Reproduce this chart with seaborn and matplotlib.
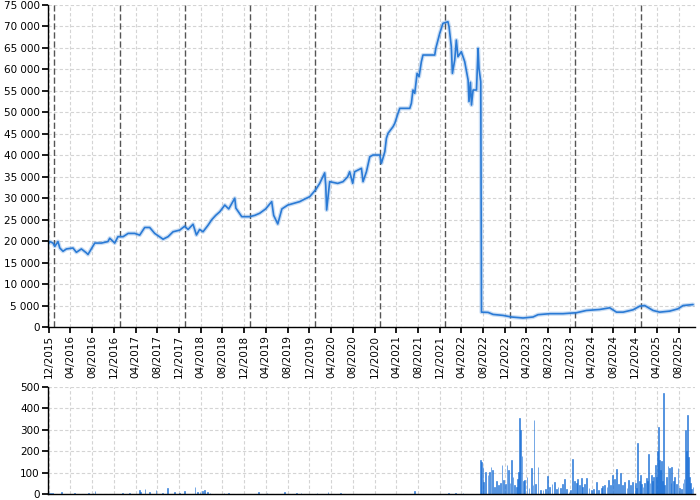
import pandas as pd
import seaborn as sns
import matplotlib.pyplot as plt
import matplotlib.dates as mdates
from matplotlib.ticker import FuncFormatter, MultipleLocator

# closing price
price_dates = [
    "2015-11-27", "2015-12-06", "2015-12-25", "2016-01-04", "2016-01-22", "2016-02-01",
    "2016-02-19", "2016-03-09", "2016-04-15", "2016-05-04", "2016-06-01", "2016-06-29",
    "2016-07-08", "2016-08-15", "2016-09-21", "2016-10-28", "2016-11-07", "2016-12-05",
    "2016-12-23", "2017-01-21", "2017-02-18", "2017-03-27", "2017-04-24", "2017-05-22",
    "2017-06-19", "2017-07-17", "2017-09-02", "2017-09-30", "2017-10-28", "2017-12-04",
    "2018-01-01", "2018-01-20", "2018-02-17", "2018-03-08", "2018-03-26", "2018-04-14",
    "2018-05-12", "2018-06-02", "2018-06-24", "2018-07-17", "2018-08-14", "2018-09-05",
    "2018-10-09", "2018-10-15", "2018-11-17", "2019-01-01", "2019-01-29", "2019-02-26",
    "2019-03-31", "2019-05-04", "2019-05-15", "2019-06-07", "2019-06-30", "2019-08-02",
    "2019-09-05", "2019-10-08", "2019-11-05", "2019-12-03", "2020-01-06", "2020-01-28",
    "2020-02-25", "2020-03-02", "2020-03-07", "2020-03-24", "2020-05-08", "2020-06-07",
    "2020-07-03", "2020-07-14", "2020-07-31", "2020-08-11", "2020-09-18", "2020-09-27",
    "2020-10-16", "2020-11-04", "2020-11-22", "2020-12-30", "2021-01-08", "2021-01-27",
    "2021-02-05", "2021-02-14", "2021-03-14", "2021-03-24", "2021-04-11", "2021-04-21",
    "2021-06-16", "2021-06-25", "2021-07-04", "2021-07-14", "2021-07-27", "2021-08-07",
    "2021-08-20", "2021-08-29", "2021-11-03", "2021-11-09", "2021-12-01", "2021-12-19",
    "2022-01-16", "2022-01-22", "2022-02-04", "2022-02-10", "2022-02-23", "2022-03-04",
    "2022-03-13", "2022-04-01", "2022-04-20", "2022-05-09", "2022-05-14", "2022-05-22",
    "2022-05-28", "2022-06-06", "2022-06-25", "2022-07-04", "2022-07-09", "2022-07-19",
    "2022-07-23", "2022-08-29", "2022-09-26", "2022-11-21", "2023-01-07", "2023-03-13",
    "2023-05-08", "2023-06-05", "2023-08-10", "2023-10-23", "2024-01-06", "2024-03-02",
    "2024-05-16", "2024-07-11", "2024-08-18", "2024-09-24", "2024-11-19", "2024-12-26",
    "2025-01-23", "2025-03-11", "2025-04-17", "2025-06-12", "2025-07-29", "2025-08-26",
    "2025-10-21",
]
price_values = [
    19160, 19900, 19550, 18770, 19900, 18400,
    17640, 18180, 18400, 17400, 18180, 17270,
    16890, 19550, 19550, 19900, 20680, 19550,
    21040, 21040, 21800, 21800, 21400, 23180,
    23180, 21800, 20450, 21040, 22180, 22560,
    23470, 22720, 23930, 21430, 22720, 22180,
    23700, 25000, 26000, 26850, 28400, 27500,
    30000, 27700, 25700, 25700, 26000, 26500,
    27500, 29200, 26000, 24000, 27500, 28400,
    28800, 29200, 29800, 30350, 32000, 33450,
    35900, 33000, 27250, 33850, 33450, 33850,
    35000, 36170, 33460, 36170, 36960, 33850,
    36170, 39660, 40060, 40060, 38120, 40830,
    43950, 45100, 46650, 47440, 49770, 50930,
    50930, 52100, 55200, 54430, 59080, 58300,
    61790, 63350, 63350, 64900, 68400, 70730,
    71100, 70000, 65280, 59080, 62180, 66840,
    62950, 64120, 61790, 57520, 52500, 57000,
    51700, 55200, 55200, 64900, 60250, 57130,
    3460, 3400, 2930, 2700, 2330, 2100,
    2330, 2870, 3100, 3100, 3320, 3850,
    4080, 4470, 3460, 3460, 4010, 4850,
    5000, 3850, 3460, 3700, 4240, 5000,
    5230,
]

# traded volume
vol_dates = [
    "2015-11-30", "2015-12-10", "2015-12-24", "2016-02-10", "2016-04-25", "2016-07-10",
    "2016-08-05", "2016-08-17", "2017-01-19", "2017-02-25", "2017-04-21", "2017-04-30",
    "2017-05-23", "2017-06-17", "2017-07-24", "2017-08-31", "2017-09-27", "2017-11-04",
    "2017-12-02", "2017-12-30", "2018-02-28", "2018-03-15", "2018-03-28", "2018-04-12",
    "2018-04-21", "2018-05-08", "2018-05-23", "2018-08-10", "2018-09-05", "2019-02-20",
    "2019-04-08", "2019-07-14", "2019-09-20", "2019-10-15", "2020-01-13", "2020-03-15",
    "2020-05-22", "2020-09-15", "2021-07-14", "2022-01-20", "2022-03-01", "2022-04-10",
    "2022-07-19", "2022-07-25", "2022-07-31", "2022-08-05", "2022-08-15", "2022-08-28",
    "2022-09-06", "2022-09-14", "2022-09-21", "2022-10-05", "2022-10-16", "2022-10-27",
    "2022-11-06", "2022-11-15", "2022-11-24", "2022-12-04", "2022-12-13", "2022-12-21",
    "2022-12-30", "2023-01-06", "2023-01-15", "2023-01-25", "2023-02-03", "2023-02-11",
    "2023-02-16", "2023-02-22", "2023-02-27", "2023-03-07", "2023-03-14", "2023-03-22",
    "2023-04-04", "2023-04-15", "2023-04-29", "2023-05-08", "2023-05-13", "2023-05-23",
    "2023-06-05", "2023-06-18", "2023-07-03", "2023-07-16", "2023-07-27", "2023-08-09",
    "2023-08-22", "2023-09-06", "2023-09-16", "2023-09-25", "2023-10-10", "2023-10-19",
    "2023-10-30", "2023-11-12", "2023-11-25", "2023-12-06", "2023-12-17", "2023-12-27",
    "2024-01-05", "2024-01-14", "2024-01-24", "2024-02-02", "2024-02-11", "2024-02-22",
    "2024-03-04", "2024-03-16", "2024-03-29", "2024-04-11", "2024-04-26", "2024-05-09",
    "2024-05-24", "2024-06-02", "2024-06-12", "2024-06-25", "2024-07-06", "2024-07-17",
    "2024-07-28", "2024-08-07", "2024-08-16", "2024-08-28", "2024-09-09", "2024-09-21",
    "2024-10-02", "2024-10-15", "2024-10-26", "2024-11-04", "2024-11-14", "2024-12-01",
    "2024-12-10", "2024-12-15", "2024-12-23", "2024-12-29", "2025-01-06", "2025-01-13",
    "2025-01-22", "2025-02-01", "2025-02-08", "2025-02-14", "2025-02-21", "2025-03-01",
    "2025-03-08", "2025-03-14", "2025-03-25", "2025-03-31", "2025-04-05", "2025-04-09",
    "2025-04-16", "2025-04-22", "2025-04-26", "2025-05-03", "2025-05-09", "2025-05-16",
    "2025-05-24", "2025-06-02", "2025-06-11", "2025-06-19", "2025-06-24", "2025-07-02",
    "2025-07-10", "2025-07-19", "2025-07-28", "2025-08-06", "2025-08-16", "2025-08-25",
    "2025-08-31", "2025-09-07", "2025-09-13", "2025-09-18", "2025-09-24", "2025-09-30",
    "2025-10-05", "2025-10-13", "2025-10-20",
]
vol_values = [
    6, 5, 6, 11, 3, 5,
    6, 14, 3, 4, 19, 11,
    22, 8, 19, 6, 30, 8,
    6, 16, 34, 10, 10, 14,
    17, 8, 6, 5, 6, 8,
    3, 11, 3, 3, 3, 8,
    3, 2, 14, 4, 6, 4,
    160, 150, 125, 58, 105, 90,
    105, 128, 113, 34, 60, 42,
    50, 136, 66, 45, 136, 113,
    50, 160, 81, 40, 34, 70,
    105, 356, 298, 179, 60, 66,
    81, 30, 121, 40, 348, 45,
    125, 20, 19, 25, 85, 34,
    45, 58, 25, 34, 30, 45,
    69, 25, 11, 20, 163, 60,
    50, 69, 40, 74, 35, 45,
    74, 30, 19, 25, 58, 20,
    30, 38, 42, 35, 66, 40,
    89, 70, 116, 45, 97, 40,
    58, 30, 66, 40, 58, 50,
    30, 238, 60, 89, 45, 34,
    50, 74, 60, 188, 50, 89,
    60, 81, 136, 80, 200, 312,
    160, 110, 152, 60, 473, 40,
    81, 132, 121, 50, 125, 60,
    81, 45, 121, 30, 22, 50,
    69, 301, 200, 371, 175, 80,
    50, 25, 31,
]

year_marks = [f"{y}-01-01" for y in range(2016, 2026)]

price = pd.DataFrame({"date": pd.to_datetime(price_dates), "close": price_values})
volume = pd.DataFrame({"date": pd.to_datetime(vol_dates), "volume": vol_values})

sns.set_theme(style="whitegrid")
plt.rcParams["font.family"] = ["DejaVu Sans"]

blue = "#2a7ad5"
x_min = pd.Timestamp("2015-11-27")
x_max = pd.Timestamp("2025-10-31")

fig = plt.figure(figsize=(7, 5), dpi=100)
ax = fig.add_axes([0.0686, 0.346, 0.924, 0.644])
axv = fig.add_axes([0.0686, 0.012, 0.924, 0.214])

# price line with a faint halo
ax.plot(price["date"], price["close"], color=blue, lw=3, alpha=0.25)
sns.lineplot(data=price, x="date", y="close", ax=ax, color=blue, lw=1.2)

for d in year_marks:
    ax.axvline(pd.Timestamp(d), color="#555555", lw=1, dashes=(4.5, 2), zorder=1)

axv.bar(volume["date"], volume["volume"], width=4, color="#1a6fd6",
        alpha=0.7, edgecolor="#1a6fd6", linewidth=0.6)

for a in (ax, axv):
    a.set_xlim(x_min, x_max)
    a.set_xlabel("")
    a.set_ylabel("")
    a.grid(True, color="#d4d4d4", lw=0.8, linestyle=(0, (3, 2)))
    a.xaxis.set_major_locator(mdates.MonthLocator(bymonth=[4, 8, 12]))
    a.xaxis.set_major_formatter(mdates.DateFormatter("%m/%Y"))
    for s in ("top", "right"):
        a.spines[s].set_visible(False)
    for s in ("left", "bottom"):
        a.spines[s].set_color("black")
        a.spines[s].set_linewidth(1)
    a.tick_params(axis="both", which="major", labelsize=7.5, length=4,
                  color="black", labelcolor="black", pad=2, left=True, bottom=True)

ax.set_ylim(0, 75000)
ax.yaxis.set_major_locator(MultipleLocator(5000))
ax.yaxis.set_major_formatter(FuncFormatter(lambda v, p: f"{int(v):,}".replace(",", " ")))
ax.tick_params(axis="x", labelrotation=90)

axv.set_ylim(0, 500)
axv.yaxis.set_major_locator(MultipleLocator(100))
axv.tick_params(axis="x", labelbottom=False, length=0)

fig.savefig("out.png", dpi=100)
